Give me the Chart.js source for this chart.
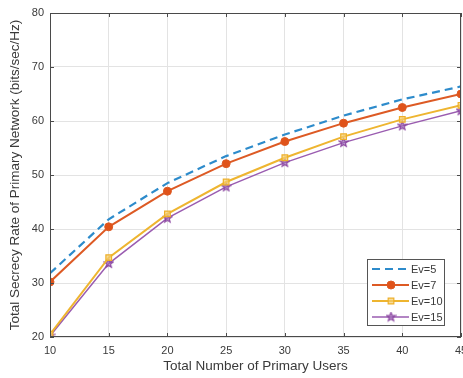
<!DOCTYPE html>
<html>
<head>
<meta charset="utf-8">
<script src="https://cdn.jsdelivr.net/npm/chart.js@4.4.1/dist/chart.umd.min.js"></script>
<style>
  html, body { margin: 0; padding: 0; background: #fff; overflow: hidden; }
  #wrap { width: 463px; height: 378px; overflow: hidden; }
</style>
</head>
<body>
<div id="wrap"><canvas id="chart" width="475" height="378"></canvas></div>
<script>
// Nombre d'utilisateurs primaires (axe x)
const users = [10, 15, 20, 25, 30, 35, 40, 45];

// Débit secret total pour chaque Ev
const ev5 = [31.8, 41.8, 48.5, 53.5, 57.5, 61.0, 64.0, 66.4];
const ev7 = [30.2, 40.4, 47.0, 52.1, 56.2, 59.6, 62.5, 65.0];
const ev10 = [20.5, 34.7, 42.8, 48.7, 53.2, 57.1, 60.3, 62.9];
const ev15 = [20.2, 33.6, 42.0, 47.8, 52.3, 56.0, 59.1, 61.9];

const seriesLabels = ['Ev=5', 'Ev=7', 'Ev=10', 'Ev=15'];
const yTicks = [20, 30, 40, 50, 60, 70, 80];
const xTicks = [10, 15, 20, 25, 30, 35, 40, 45];

const FONT = '"Liberation Sans", Arial, Helvetica, sans-serif';
const TXT = '#3a3a3a';

// étoile à 5 branches (pentagramme MATLAB)
function makeStar(color, size) {
  const c = document.createElement('canvas');
  c.width = size; c.height = size;
  const g = c.getContext('2d');
  const cx = size / 2, cy = size / 2, R = size / 2 - 1, r = R * 0.42;
  g.beginPath();
  for (let i = 0; i < 10; i++) {
    const rad = i % 2 === 0 ? R : r;
    const a = -Math.PI / 2 + i * Math.PI / 5;
    const px = cx + rad * Math.cos(a), py = cy + rad * Math.sin(a);
    if (i === 0) g.moveTo(px, py); else g.lineTo(px, py);
  }
  g.closePath();
  g.fillStyle = 'rgba(160,110,185,0.6)';
  g.fill();
  g.strokeStyle = color;
  g.lineWidth = 1.2;
  g.stroke();
  return c;
}
const starImg = makeStar('#8a44a0', 11);

function toXY(vals) {
  return vals.map((v, i) => ({ x: users[i], y: v }));
}

// boîte du graphe + graduations intérieures + légende façon MATLAB
const matlabBox = {
  id: 'matlabBox',
  afterDatasetsDraw(chart) {
    const { ctx, chartArea: a, scales } = chart;
    ctx.save();
    ctx.strokeStyle = '#4a4a4a';
    ctx.lineWidth = 1;
    ctx.strokeRect(a.left + 0.5, a.top + 0.5, a.right - a.left - 1, a.bottom - a.top - 1);
    ctx.beginPath();
    xTicks.forEach(t => {
      const px = Math.round(scales.x.getPixelForValue(t)) + 0.5;
      ctx.moveTo(px, a.bottom); ctx.lineTo(px, a.bottom - 4);
      ctx.moveTo(px, a.top); ctx.lineTo(px, a.top + 4);
    });
    yTicks.forEach(t => {
      const py = Math.round(scales.y.getPixelForValue(t)) + 0.5;
      ctx.moveTo(a.left, py); ctx.lineTo(a.left + 4, py);
      ctx.moveTo(a.right, py); ctx.lineTo(a.right - 4, py);
    });
    ctx.stroke();

    // légende
    const bx = 367, by = 259, bw = 77, bh = 66;
    ctx.fillStyle = '#fff';
    ctx.fillRect(bx, by, bw, bh);
    ctx.strokeStyle = '#555';
    ctx.strokeRect(bx + 0.5, by + 0.5, bw, bh);
    chart.data.datasets.forEach((ds, i) => {
      const y = by + 10 + i * 16;
      ctx.save();
      ctx.strokeStyle = ds.borderColor;
      ctx.lineWidth = ds.borderWidth;
      ctx.setLineDash(ds.borderDash || []);
      ctx.beginPath();
      ctx.moveTo(bx + 5, y); ctx.lineTo(bx + 42, y);
      ctx.stroke();
      ctx.setLineDash([]);
      if (ds.pointRadius > 0) {
        ctx.fillStyle = ds.pointBackgroundColor;
        ctx.strokeStyle = ds.pointBorderColor;
        ctx.lineWidth = ds.pointBorderWidth;
        Chart.helpers.drawPoint(ctx, { pointStyle: ds.pointStyle, radius: ds.pointRadius, borderWidth: ds.pointBorderWidth, rotation: 0 }, bx + 24, y);
      }
      ctx.restore();
      ctx.fillStyle = TXT;
      ctx.font = '11px ' + FONT;
      ctx.textBaseline = 'middle';
      ctx.fillText(ds.label, bx + 44, y + 1);
    });
    ctx.restore();
  }
};

new Chart(document.getElementById('chart'), {
  type: 'line',
  data: {
    datasets: [
      {
        label: seriesLabels[0], data: toXY(ev5),
        borderColor: '#2d8bcb', borderWidth: 2.2, borderDash: [8, 5],
        pointRadius: 0, pointStyle: 'circle', tension: 0
      },
      {
        label: seriesLabels[1], data: toXY(ev7),
        borderColor: '#dd5a24', borderWidth: 2,
        pointStyle: 'circle', pointRadius: 4,
        pointBackgroundColor: '#e0531a', pointBorderColor: '#dd5a24', pointBorderWidth: 1, tension: 0
      },
      {
        label: seriesLabels[2], data: toXY(ev10),
        borderColor: '#eeb530', borderWidth: 2,
        pointStyle: 'rect', pointRadius: 4,
        pointBackgroundColor: 'rgba(245,205,110,0.7)', pointBorderColor: '#eeb02a', pointBorderWidth: 1.2, tension: 0
      },
      {
        label: seriesLabels[3], data: toXY(ev15),
        borderColor: '#9a5cb0', borderWidth: 1.5,
        pointStyle: starImg, pointRadius: 5,
        pointBackgroundColor: '#9a5cb0', pointBorderColor: '#8a44a0', pointBorderWidth: 1, tension: 0
      }
    ]
  },
  options: {
    responsive: false,
    animation: false,
    layout: { padding: { top: 13, right: 14, left: 0, bottom: 0 } },
    plugins: {
      legend: { display: false },
      tooltip: { enabled: false }
    },
    scales: {
      x: {
        type: 'linear', min: 10, max: 45,
        afterBuildTicks: s => { s.ticks = xTicks.map(v => ({ value: v })); },
        afterFit: s => { s.height = 41; },
        grid: { color: '#e3e3e3', drawTicks: false },
        border: { display: false },
        ticks: { color: TXT, font: { family: FONT, size: 11 }, padding: 7, maxRotation: 0 },
        title: { display: true, text: 'Total Number of Primary Users', color: TXT, font: { family: FONT, size: 13.5 }, padding: { top: 4 } }
      },
      y: {
        type: 'linear', min: 20, max: 80,
        afterBuildTicks: s => { s.ticks = yTicks.map(v => ({ value: v })); },
        afterFit: s => { s.width = 50; },
        grid: { color: '#e3e3e3', drawTicks: false },
        border: { display: false },
        ticks: { color: TXT, font: { family: FONT, size: 11 }, padding: 6 },
        title: { display: true, text: 'Total Secrecy Rate of Primary Network (bits/sec/Hz)', color: TXT, font: { family: FONT, size: 13.5 }, padding: { top: 7, bottom: 0 } }
      }
    }
  },
  plugins: [matlabBox]
});
</script>
</body>
</html>
